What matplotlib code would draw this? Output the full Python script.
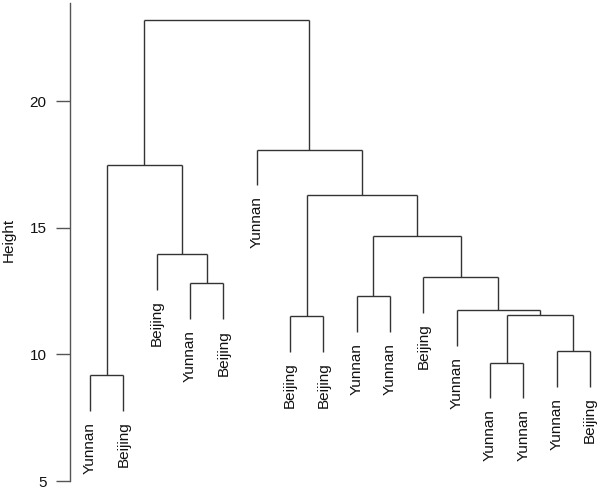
import matplotlib
matplotlib.use("Agg")
import matplotlib.pyplot as plt

plt.rcParams['font.family'] = ['Liberation Sans', 'DejaVu Sans']

# Leaf labels in display order
leaf_labels = ["Yunnan", "Beijing", "Beijing", "Yunnan", "Beijing", "Yunnan",
               "Beijing", "Beijing", "Yunnan", "Yunnan", "Beijing", "Yunnan",
               "Yunnan", "Yunnan", "Yunnan", "Beijing"]

# Merges (R hclust style): negative = leaf (1-based display position), positive = earlier merge
merge_a = [-1, -13, -15, -7, 2, -12, -9, -4, -11, -3, 7, 4, 1, -6, 13]
merge_b = [-2, -14, -16, -8, 3, 5, -10, -5, 6, 8, 9, 11, 10, 12, 14]
merge_height = [9.18, 9.66, 10.13, 11.51, 11.55, 11.75, 12.30, 12.81,
                13.05, 13.96, 14.67, 16.29, 17.47, 18.07, 23.20]

y_ticks = [5, 10, 15, 20]
hang = 0.1

fig = plt.figure(figsize=(6.0, 4.9), dpi=100)
ax = fig.add_axes([70/600, 9/490, 530/600, 478/490])

line_col = '#333333'
rng = max(merge_height) - min(merge_height)
hang_len = hang * rng

node_x = {}
node_y = {}

def child_pos(c):
    if c < 0:
        return float(-c), None
    return node_x[c], node_y[c]

for i, (a, b, h) in enumerate(zip(merge_a, merge_b, merge_height), start=1):
    xa, ya = child_pos(a)
    xb, yb = child_pos(b)
    for c, xc, yc in ((a, xa, ya), (b, xb, yb)):
        if yc is None:
            yc = h - hang_len
            lab = leaf_labels[-c - 1]
            ax.annotate(lab, xy=(xc, yc), xytext=(0, -8), textcoords='offset points',
                        rotation=90, ha='center', va='top', fontsize=11,
                        color='#111111', annotation_clip=False)
        ax.plot([xc, xc], [yc, h], color=line_col, lw=1.0, solid_capstyle='butt')
    ax.plot([xa, xb], [h, h], color=line_col, lw=1.0, solid_capstyle='butt')
    node_x[i] = (xa + xb) / 2
    node_y[i] = h

ax.set_xlim(0.4, 16.3)
ax.set_ylim(5, 23.87)
ax.set_yticks(y_ticks)
ax.set_yticklabels([str(t) for t in y_ticks], fontsize=11, color='#111111')
ax.tick_params(axis='y', length=10, width=1, color='#555555', pad=7)
ax.set_xticks([])
for s in ['top', 'right', 'bottom']:
    ax.spines[s].set_visible(False)
ax.spines['left'].set_color('#555555')
ax.spines['left'].set_linewidth(1.0)

fig.text(9/600, 1 - 240/490, 'Height', rotation=90, ha='center', va='center',
         fontsize=11, color='#111111')

fig.savefig('out.png', dpi=100)
